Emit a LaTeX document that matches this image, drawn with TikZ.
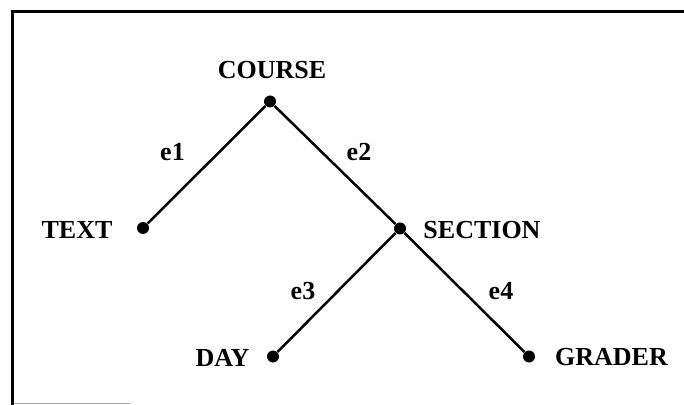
\documentclass[tikz,border=0pt]{standalone}
\usepackage{fontspec}
\setmainfont{Liberation Serif}
\usepackage{tikz}
\usetikzlibrary{positioning}

\begin{document}
\begin{tikzpicture}[x=0.5pt, y=-0.5pt,
    every node/.style={font=\fontsize{13}{15}\selectfont\bfseries},
    vertex/.style={circle, fill=black, inner sep=0pt, minimum size=6pt},
    entity/.style={inner sep=0pt},
    edgelbl/.style={inner sep=0pt},
    link/.style={line width=1.25pt}]
            \useasboundingbox (0,0) rectangle (684,405);

            % Frame
            \draw[line width=1.3pt] (12.5,405) -- (12.5,11.5) -- (684,11.5);
            \draw[line width=0.5pt, black!35] (14,403.5) -- (130,403.5);

            % Dots
            \node[vertex] (course)  at (270,101.5) {};
            \node[vertex] (text)    at (143,228)   {};
            \node[vertex] (section) at (400,228.5) {};
            \node[vertex] (day)     at (273,356.5) {};
            \node[vertex] (grader)  at (529,356.5) {};

            % Entity names
            \node[entity] (courselbl)  at (272,70)      {COURSE};
            \node[entity] (textlbl)    at (77,229.5)    {TEXT};
            \node[entity] (sectionlbl) at (482,230)     {SECTION};
            \node[entity] (daylbl)     at (222.5,357.5) {DAY};
            \node[entity] (graderlbl)  at (611.5,357.5) {GRADER};

            % Edges
            \draw[link] (course) -- (text);
            \draw[link] (course) -- (section);
            \draw[link] (section) -- (day);
            \draw[link] (section) -- (grader);

            % Edge labels
            \node[edgelbl] (e1) at (172.5,152) {e1};
            \node[edgelbl] (e2) at (359,152)   {e2};
            \node[edgelbl] (e3) at (303,291)   {e3};
            \node[edgelbl] (e4) at (501,291)   {e4};
        \end{tikzpicture}
\end{document}
